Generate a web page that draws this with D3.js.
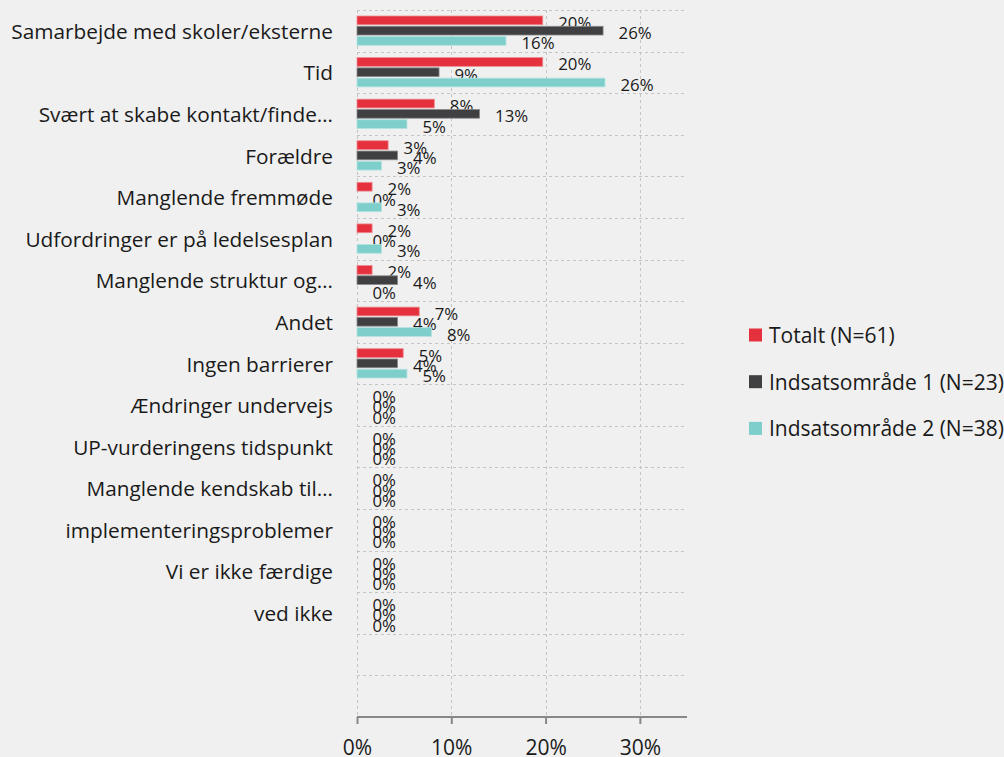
<!DOCTYPE html>
<html>
<head>
<meta charset="utf-8">
<script src="https://cdn.jsdelivr.net/npm/d3@7"></script>
<style>
  html, body { margin: 0; padding: 0; background: #f0f0f0; }
  svg { display: block; }
  text { font-family: "Open Sans", sans-serif; fill: #1a1a1a; }
</style>
</head>
<body>
<svg id="chart" width="1004" height="757"></svg>
<script>
// ---- data ----
const categories = [
  "Samarbejde med skoler/eksterne",
  "Tid",
  "Svært at skabe kontakt/finde…",
  "Forældre",
  "Manglende fremmøde",
  "Udfordringer er på ledelsesplan",
  "Manglende struktur og…",
  "Andet",
  "Ingen barrierer",
  "Ændringer undervejs",
  "UP-vurderingens tidspunkt",
  "Manglende kendskab til…",
  "implementeringsproblemer",
  "Vi er ikke færdige",
  "ved ikke",
  " ",
  "  "
];
const seriesNames = ["Totalt (N=61)", "Indsatsområde 1 (N=23)", "Indsatsområde 2 (N=38)"];
const totalt = [0.197, 0.197, 0.082, 0.033, 0.016, 0.016, 0.016, 0.066, 0.049, 0, 0, 0, 0, 0, 0, null, null];
const omr1   = [0.261, 0.087, 0.130, 0.043, 0, 0, 0.043, 0.043, 0.043, 0, 0, 0, 0, 0, 0, null, null];
const omr2   = [0.158, 0.263, 0.053, 0.026, 0.026, 0.026, 0, 0.079, 0.053, 0, 0, 0, 0, 0, 0, null, null];
const xTicks = [0, 0.1, 0.2, 0.3];
const colors = ["#e4313d", "#404042", "#7ecfcb"];
const strokes = ["#ee8a90", "#8a8a8c", "#b3e3e0"];

const seriesValues = [totalt, omr1, omr2];

// ---- layout ----
const svg = d3.select("#chart");
const mLeft = 357, mTop = 10, plotW = 330, plotH = 707;

const x = d3.scaleLinear().domain([0, 0.35]).range([mLeft, mLeft + plotW]);
const y = d3.scaleBand().domain(categories).range([mTop, mTop + plotH]).paddingInner(0).paddingOuter(0);
const yInner = d3.scaleBand().domain(seriesNames).range([6, 35.3]).paddingInner(0.15);

// grid
const grid = svg.append("g");
const hLines = categories.map(c => y(c));
grid.selectAll("line.h").data(hLines).join("line")
  .attr("x1", x(0)).attr("x2", x(0.35))
  .attr("y1", d => Math.round(d) + 0.5).attr("y2", d => Math.round(d) + 0.5)
  .attr("stroke", "#c4c4c4").attr("stroke-dasharray", "3,3").attr("stroke-width", 1);
grid.selectAll("line.v").data(xTicks).join("line")
  .attr("x1", d => Math.round(x(d)) + 0.5).attr("x2", d => Math.round(x(d)) + 0.5)
  .attr("y1", mTop).attr("y2", mTop + plotH)
  .attr("stroke", "#c4c4c4").attr("stroke-dasharray", "3,3").attr("stroke-width", 1);

// bars
seriesNames.forEach((s, si) => {
  const vals = seriesValues[si];
  const g = svg.append("g");
  const rows = categories.map((c, i) => ({ c, v: vals[i] })).filter(d => d.v !== null);
  g.selectAll("rect").data(rows.filter(d => d.v > 0)).join("rect")
    .attr("x", x(0))
    .attr("y", d => y(d.c) + yInner(s))
    .attr("width", d => x(d.v) - x(0))
    .attr("height", yInner.bandwidth())
    .attr("fill", colors[si])
    .attr("stroke", strokes[si]).attr("stroke-width", 0.8);
  g.selectAll("text").data(rows).join("text")
    .attr("x", d => x(d.v) + 15.5)
    .attr("y", d => y(d.c) + yInner(s) + yInner.bandwidth() / 2 + 2)
    .attr("dominant-baseline", "central")
    .attr("font-size", "16.8px")
    .text(d => Math.round(d.v * 100) + "%");
});

// category labels
svg.append("g").selectAll("text").data(categories).join("text")
  .attr("x", 333)
  .attr("y", d => y(d) + y.bandwidth() / 2)
  .attr("dominant-baseline", "central")
  .attr("text-anchor", "end")
  .attr("font-size", "20.8px")
  .text(d => d.trim());

// x axis
const axis = svg.append("g").attr("transform", `translate(0,${mTop + plotH})`)
  .call(d3.axisBottom(x).tickValues(xTicks).tickFormat(d3.format(".0%")).tickSize(7).tickSizeOuter(0));
axis.select(".domain").attr("stroke", "#888").attr("stroke-width", 2)
  .attr("d", `M${x(0)},0H${x(0.35)}`);
axis.selectAll(".tick line").attr("stroke", "#888").attr("stroke-width", 2);
axis.selectAll(".tick text").attr("font-size", "21px").attr("font-family", "Open Sans, sans-serif")
  .attr("fill", "#1a1a1a").attr("dy", null).attr("y", 38);

// legend
const leg = svg.append("g");
seriesNames.forEach((s, i) => {
  const cy = 335 + i * 46.7;
  leg.append("rect").attr("x", 749).attr("y", cy - 6.5).attr("width", 13).attr("height", 13).attr("fill", colors[i]);
  leg.append("text").attr("x", 769).attr("y", cy).attr("dominant-baseline", "central")
    .attr("font-size", "21px").text(s);
});
</script>
</body>
</html>
